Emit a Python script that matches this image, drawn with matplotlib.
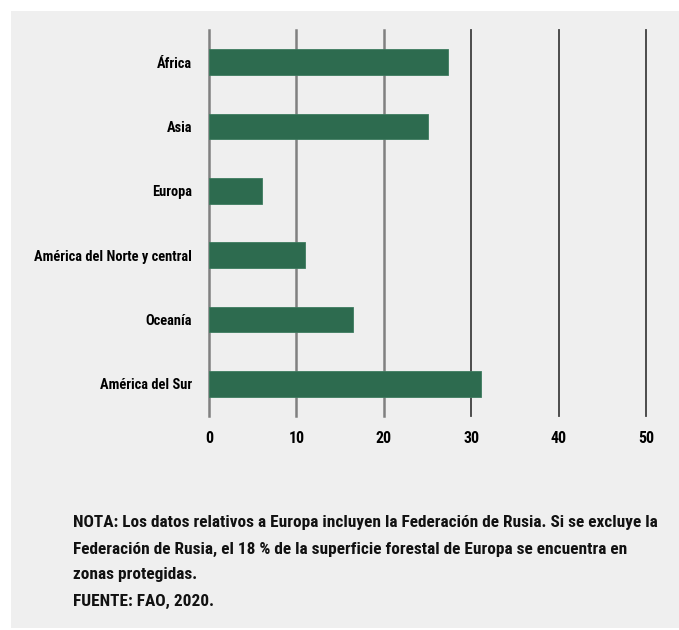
import matplotlib
matplotlib.use("Agg")
import matplotlib.pyplot as plt
from matplotlib.patches import Rectangle
from matplotlib import font_manager as fm

# pick the narrowest family that is actually installed
candidates = ['Liberation Sans Narrow', 'DejaVu Sans Condensed', 'Roboto Condensed',
              'Open Sans Condensed', 'Noto Sans Condensed', 'Roboto', 'DejaVu Sans']
family = 'DejaVu Sans'
for c in candidates:
    try:
        fm.findfont(fm.FontProperties(family=c), fallback_to_default=False)
        family = c
        break
    except ValueError:
        continue
plt.rcParams['font.family'] = [family, 'DejaVu Sans']

# porcentaje de bosque en zonas protegidas, por región
regions = ["África", "Asia", "Europa", "América del Norte y central",
           "Oceanía", "América del Sur"]
values = [27.4, 25.0, 6.1, 11.0, 16.5, 31.1]
xticks = [0, 10, 20, 30, 40, 50]

note_lines = ["NOTA: Los datos relativos a Europa incluyen la Federación de Rusia. Si se excluye la",
              "Federación de Rusia, el 18 % de la superficie forestal de Europa se encuentra en",
              "zonas protegidas.",
              "FUENTE: FAO, 2020."]

bg = "#efefef"
green = "#2d6b4f"

fig = plt.figure(figsize=(6.79, 6.30), dpi=100)
fig.patch.set_facecolor("white")
fig.patches.append(Rectangle((11 / 679, 2 / 630), 668 / 679, 617 / 630,
                             transform=fig.transFigure, facecolor=bg,
                             edgecolor="none", zorder=-5))

ax = fig.add_axes([209 / 679, 1 - 416 / 630, 437 / 679, 386 / 630])
ax.patch.set_visible(False)

ypos = list(range(len(regions)))
ax.barh(ypos, values, height=0.4, color=green, edgecolor="#3d7b5f",
        linewidth=0.6, zorder=3)

ax.set_xlim(0, 50)
ax.set_ylim(len(regions) - 0.5, -0.5)
ax.set_yticks(ypos)
ylabels = ax.set_yticklabels(regions, fontsize=11, fontweight="bold")
ax.set_xticks(xticks)
xlabels = ax.set_xticklabels([str(t) for t in xticks], fontsize=11, fontweight="bold")
ax.tick_params(axis="both", length=0)
ax.tick_params(axis="y", pad=12)
ax.tick_params(axis="x", pad=10.5)

for t in xticks:
    if t < 30:
        ax.axvline(t, color="#808080", linewidth=1.8, zorder=1, clip_on=False)
    else:
        ax.axvline(t, color="#3f3f3f", linewidth=1.3, zorder=1, clip_on=False)

for s in ax.spines.values():
    s.set_visible(False)

line_y = [523, 549, 575, 601]
notes = [fig.text(73 / 679, 1 - y / 630, s, fontsize=13, fontweight="bold",
                  va="center", ha="left", color="#111111")
         for s, y in zip(note_lines, line_y)]

# scale font sizes so the texts take the widths they have in the original
fig.canvas.draw()
r = fig.canvas.get_renderer()
w = notes[0].get_window_extent(r).width
note_size = 13 * 578 / w
for n in notes:
    n.set_fontsize(note_size)
w = ylabels[3].get_window_extent(r).width
lab_size = 11 * 157 / w
for t in ylabels:
    t.set_fontsize(lab_size)
for t in xlabels:
    t.set_fontsize(min(lab_size * 1.1, 13))

fig.savefig("out.png", dpi=100, facecolor=fig.get_facecolor())
